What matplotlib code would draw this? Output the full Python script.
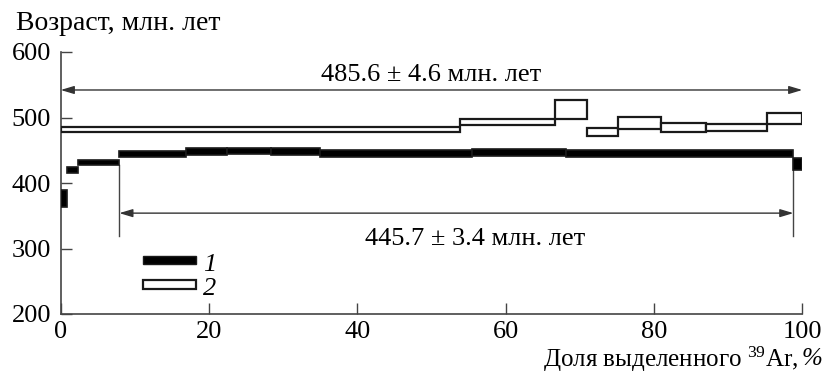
import matplotlib
matplotlib.use("Agg")
import matplotlib.pyplot as plt
from matplotlib.patches import Rectangle

plt.rcParams['font.family'] = ['Liberation Serif', 'DejaVu Serif']
plt.rcParams['mathtext.fontset'] = 'custom'
plt.rcParams['mathtext.rm'] = 'Liberation Serif'
plt.rcParams['mathtext.it'] = 'Liberation Serif:italic'

FS = 19

# Series 1 (black): cumulative 39Ar boundaries, ages, errors
cum1 = [0, 0.8, 2.4, 7.9, 16.85, 22.4, 28.4, 35.0, 55.4, 68.2, 98.8, 100]
age1 = [376, 420, 431, 444.5, 448, 449, 448, 445, 446.5, 445, 429]
err1 = [13, 4, 4, 4.5, 5, 5, 5, 5, 5.5, 5, 9]

# Series 2 (open)
cum2 = [0, 53.8, 66.6, 71.0, 75.1, 81.0, 87.0, 95.3, 100]
age2 = [481.7, 492.8, 512, 478, 491, 485, 484.7, 498.6]
err2 = [3.3, 4.3, 14.7, 6.3, 9, 7, 4.9, 8.6]

# Plateau ages
plat1_age, plat1_err, plat1_range = 445.7, 3.4, (7.9, 98.8)
plat2_age, plat2_err, plat2_range = 485.6, 4.6, (0, 100)

xticks = [0, 20, 40, 60, 80, 100]
yticks = [200, 300, 400, 500, 600]

fig = plt.figure(figsize=(8.24, 3.76), dpi=100)
ax = fig.add_axes([60.7/824, 62/376, (802.3-60.7)/824, (314-52)/376])
ax.set_xlim(0, 100)
ax.set_ylim(200, 600)

# series 2 open boxes
lefts2 = cum2[:-1]
widths2 = [b - a for a, b in zip(cum2[:-1], cum2[1:])]
ax.bar(lefts2, [2*e for e in err2], width=widths2, bottom=[a - e for a, e in zip(age2, err2)],
       align='edge', facecolor='white', edgecolor='#1a1a1a', linewidth=1.6, zorder=3)

# series 1 filled boxes
lefts1 = cum1[:-1]
widths1 = [b - a for a, b in zip(cum1[:-1], cum1[1:])]
ax.bar(lefts1, [2*e for e in err1], width=widths1, bottom=[a - e for a, e in zip(age1, err1)],
       align='edge', facecolor='black', edgecolor='#1a1a1a', linewidth=1.2, zorder=3)

arrow_kw = dict(arrowstyle='<|-|>,head_length=0.5,head_width=0.15', lw=1.0, color='#333333',
                mutation_scale=16, shrinkA=0, shrinkB=0)

# plateau 2 arrow
y2 = 542
ax.annotate('', xy=(plat2_range[1], y2), xytext=(plat2_range[0], y2), arrowprops=arrow_kw)
ax.text(50, 555, f'{plat2_age} ± {plat2_err} млн. лет', ha='center', va='baseline', fontsize=FS)

# plateau 1 arrow
y1 = 354
ax.annotate('', xy=(plat1_range[1], y1), xytext=(plat1_range[0], y1), arrowprops=arrow_kw)
ax.plot([plat1_range[0]]*2, [427, 319], color='#444444', lw=1.0, zorder=2)
ax.plot([plat1_range[1]]*2, [420, 319], color='#444444', lw=1.0, zorder=2)
ax.text(55.9, 306, f'{plat1_age} ± {plat1_err} млн. лет', ha='center', va='baseline', fontsize=FS)

# legend
ax.add_patch(Rectangle((11.05, 276), 7.25, 12.5, facecolor='black', edgecolor='#1a1a1a', lw=1.0, zorder=3))
ax.add_patch(Rectangle((11.05, 238.5), 7.25, 13, facecolor='white', edgecolor='#1a1a1a', lw=1.6, zorder=3))
ax.text(19.2, 265, '1', style='italic', fontsize=FS, va='baseline', ha='left')
ax.text(19.2, 228.5, '2', style='italic', fontsize=FS, va='baseline', ha='left')

for s in ['top', 'right']:
    ax.spines[s].set_visible(False)
for s in ['left', 'bottom']:
    ax.spines[s].set_color('#444444')
    ax.spines[s].set_linewidth(1.2)

ax.set_xticks(xticks)
ax.set_yticks(yticks)
ax.tick_params(direction='in', length=8, width=1.0, color='#444444', labelsize=FS)
ax.tick_params(axis='x', pad=5)
ax.tick_params(axis='y', pad=7)

fig.text(16/824, 1 - 24/376, 'Возраст, млн. лет', ha='left', va='center', fontsize=20)

# x label: italic % drawn separately
XFS = 18
pct = fig.text(822/824, 1 - 359/376, '%', ha='right', va='center', fontsize=XFS, style='italic')
renderer = fig.canvas.get_renderer()
pw = pct.get_window_extent(renderer).width
fig.text((822 - pw - 1)/824, 1 - 359/376, 'Доля выделенного $^{39}$Ar, ', ha='right', va='center', fontsize=XFS)

fig.savefig('out.png', dpi=100)
